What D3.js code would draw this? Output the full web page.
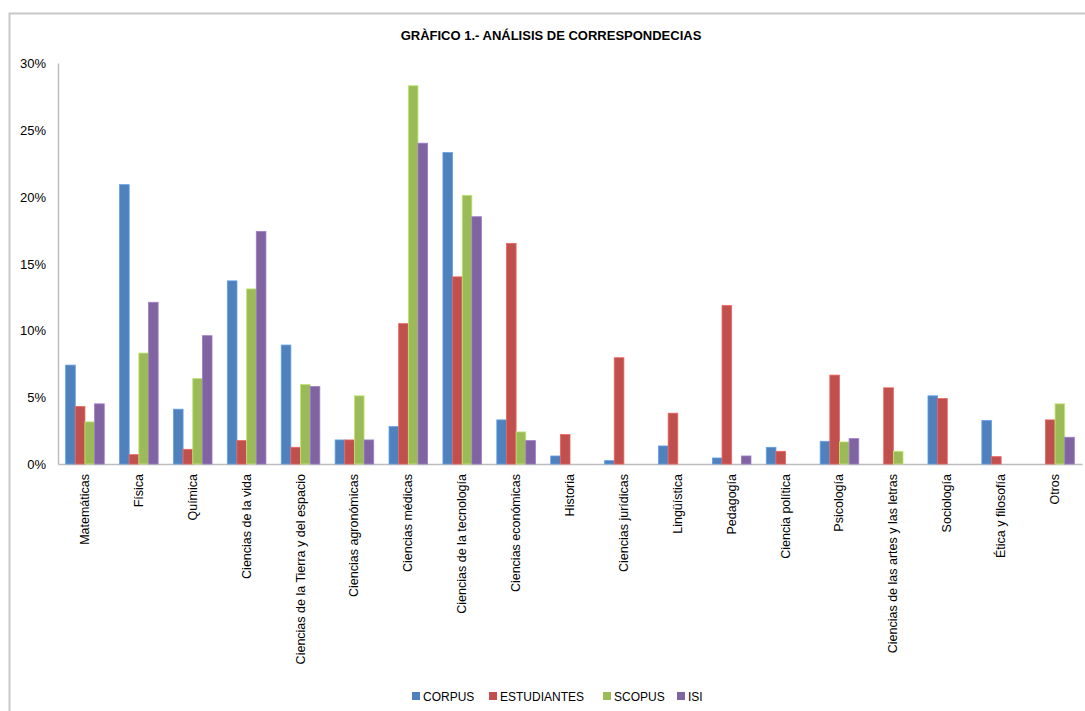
<!DOCTYPE html>
<html>
<head>
<meta charset="utf-8">
<script src="https://cdn.jsdelivr.net/npm/d3@7"></script>
<style>
  body { margin: 0; background: #fff; }
  text { font-family: "Liberation Sans Narrow", "Liberation Sans", sans-serif; fill: #000; }
</style>
</head>
<body>
<svg id="chart"></svg>
<script>
const categories = ["Matemáticas", "Física", "Química", "Ciencias de la vida",
    "Ciencias de la Tierra y del espacio", "Ciencias agronómicas", "Ciencias médicas",
    "Ciencias de la tecnología", "Ciencias económicas", "Historia", "Ciencias jurídicas",
    "Lingüística", "Pedagogía", "Ciencia política", "Psicología",
    "Ciencias de las artes y las letras", "Sociología", "Ética y filosofía", "Otros"]

const seriesNames = ["CORPUS", "ESTUDIANTES", "SCOPUS", "ISI"]
const seriesColors = ["#4F81BD", "#C0504D", "#9BBB59", "#8064A2"]

// values in %
const corpus      = [7.4, 20.9, 4.1, 13.7, 8.9, 1.8, 2.8, 23.3, 3.3, 0.6, 0.25, 1.35, 0.45, 1.25, 1.7, 0, 5.1, 3.25, 0]
const estudiantes = [4.3, 0.7, 1.1, 1.75, 1.25, 1.8, 10.5, 14.0, 16.5, 2.2, 7.95, 3.8, 11.85, 0.95, 6.65, 5.7, 4.9, 0.55, 3.3]
const scopus      = [3.15, 8.3, 6.4, 13.1, 5.95, 5.1, 28.3, 20.1, 2.4, 0, 0, 0, 0, 0, 1.65, 0.95, 0, 0, 4.5]
const isi         = [4.5, 12.1, 9.6, 17.4, 5.8, 1.8, 24.0, 18.5, 1.75, 0, 0, 0, 0.6, 0, 1.9, 0, 0, 0, 2.0]

const yTicks = [0, 5, 10, 15, 20, 25, 30]

const allSeries = [corpus, estudiantes, scopus, isi]
const data = categories.map((c, i) => ({
    label: c,
    values: seriesNames.map((s, j) => ({ key: s, value: allSeries[j][i] }))
}))

// container
    const width = 1085
    const height = 711
    const margin = { left: 58, top: 63 }
    const plotW = 1024
    const plotH = 401

    const svg = d3.select('#chart')
        .attr('width', width)
        .attr('height', height)

    // outer frame
    svg.append('rect')
        .attr('x', 9.5).attr('y', 13.5)
        .attr('width', width).attr('height', height)
        .attr('fill', 'none')
        .attr('stroke', '#c8c8c8')
        .attr('stroke-width', 2)

    svg.append('text')
        .attr('x', 551).attr('y', 40)
        .attr('text-anchor', 'middle')
        .style('font-family', '"Liberation Sans", sans-serif')
        .style('font-weight', 'bold')
        .style('font-size', '13px')
        .text('GRÀFICO 1.- ANÁLISIS DE CORRESPONDECIAS')

    const g = svg.append('g')
        .attr('transform', `translate(${margin.left}, ${margin.top})`)

// scales
    const x0 = d3.scaleBand()
        .domain(categories)
        .range([0, plotW])
        .paddingInner(0.284)
        .paddingOuter(0.142)
    const x1 = d3.scaleBand()
        .domain(seriesNames)
        .range([0, x0.bandwidth()])
    const y = d3.scaleLinear()
        .domain([0, 30])
        .range([plotH, 0])
    const color = d3.scaleOrdinal()
        .domain(seriesNames)
        .range(seriesColors)

// axes
    const yAxis = d3.axisLeft(y)
        .tickValues(yTicks)
        .tickSize(0)
        .tickPadding(12)
        .tickFormat(d => d + '%')
    g.append('g')
        .call(yAxis)
        .call(s => s.select('.domain').attr('stroke', '#bdbdbd').attr('stroke-width', 1.5))
        .selectAll('text')
            .style('font-family', '"Liberation Sans", sans-serif')
            .style('font-size', '13px')
            .attr('dy', '0.35em')

    const xAxis = d3.axisBottom(x0)
        .tickSize(0)
        .tickPadding(0)
    g.append('g')
        .attr('transform', `translate(0, ${plotH})`)
        .call(xAxis)
        .call(s => s.select('.domain').attr('stroke', '#bdbdbd').attr('stroke-width', 1.5))
        .selectAll('text')
            .style('font-size', '12.5px')
            .attr('transform', 'translate(4, 10) rotate(-90)')
            .attr('dy', 0)
            .attr('x', 0)
            .attr('y', 0)
            .style('text-anchor', 'end')

// bars
    const groups = g.selectAll('.group')
        .data(data)
        .enter()
        .append('g')
            .attr('class', 'group')
            .attr('transform', d => `translate(${x0(d.label)}, 0)`)
    groups.selectAll('rect')
        .data(d => d.values.filter(v => v.value > 0))
        .enter()
        .append('rect')
            .attr('x', d => x1(d.key))
            .attr('y', d => y(d.value))
            .attr('width', x1.bandwidth())
            .attr('height', d => plotH - y(d.value))
            .attr('fill', d => color(d.key))
            .attr('stroke', d => d3.color(color(d.key)).brighter(0.6))
            .attr('stroke-width', 0.8)

// legend
    const legendX = [412, 489, 603, 677]
    const legend = svg.append('g')
        .attr('transform', 'translate(0, 697)')
    seriesNames.forEach((s, i) => {
        legend.append('rect')
            .attr('x', legendX[i]).attr('y', -5)
            .attr('width', 8).attr('height', 8)
            .attr('fill', color(s))
        legend.append('text')
            .attr('x', legendX[i] + 11).attr('y', 0)
            .attr('dy', '0.35em')
            .style('font-family', '"Liberation Sans", sans-serif')
            .style('font-size', '12px')
            .text(s)
    })
</script>
</body>
</html>
